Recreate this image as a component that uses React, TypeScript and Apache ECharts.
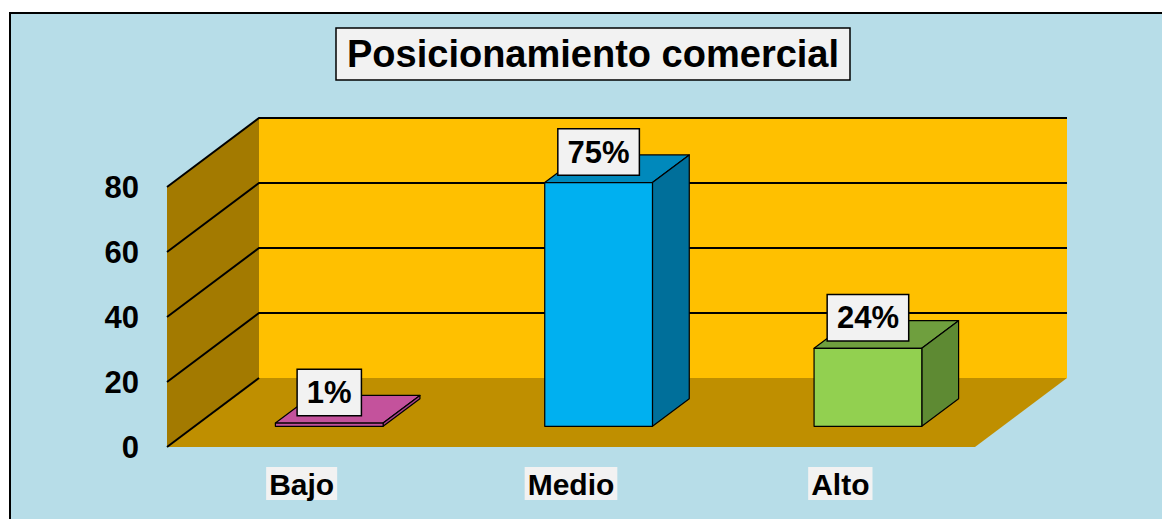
import React, { useEffect, useRef } from "react";
import * as echarts from "echarts";

const categories = ["Bajo", "Medio", "Alto"];
const values = [1, 75, 24];
const valueLabels = ["1%", "75%", "24%"];
const yTicks = [0, 20, 40, 60, 80];
const frontColors = ["#C0509C", "#00B0F0", "#92D050"];
const topColors = ["#C4529C", "#0089BC", "#6F9F3E"];
const sideColors = ["#A8418A", "#006F9A", "#5E8A33"];

const DX = 92;
const DY = -69;
const FONT = '"Liberation Sans", Arial, sans-serif';

export default function App() {
  const ref = useRef<HTMLDivElement>(null);
  useEffect(() => {
    const chart = echarts.init(ref.current!, null, { renderer: "svg" });

    const wallsRender = (params: any, api: any) => {
      const cs = params.coordSys;
      const x0 = cs.x;
      const x1 = cs.x + cs.width;
      const yb = api.coord([0, yTicks[0]])[1];
      const yt = api.coord([0, yTicks[yTicks.length - 1]])[1];
      const children: any[] = [];
      children.push({
        type: "polygon",
        shape: { points: [[x0, yb], [x1, yb], [x1 + DX, yb + DY], [x0 + DX, yb + DY]] },
        style: { fill: "#BF8F00" },
      });
      children.push({
        type: "polygon",
        shape: { points: [[x0, yb], [x0 + DX, yb + DY], [x0 + DX, yt + DY], [x0, yt]] },
        style: { fill: "#A37A00" },
      });
      children.push({
        type: "rect",
        shape: { x: x0 + DX, y: yt + DY, width: cs.width, height: yb - yt },
        style: { fill: "#FFC000" },
      });
      yTicks.forEach((v) => {
        const y = api.coord([0, v])[1];
        const pts =
          v === 0
            ? [[x0, y], [x0 + DX, y + DY]]
            : [[x0, y], [x0 + DX, y + DY], [x1 + DX, y + DY]];
        children.push({
          type: "polyline",
          shape: { points: pts },
          style: { stroke: "#000", lineWidth: 2, fill: null },
        });
      });
      return { type: "group", children };
    };

    const barRender = (params: any, api: any) => {
      const i = api.value(0);
      const v = api.value(1);
      const top = api.coord([i, v]);
      const base = api.coord([i, 0]);
      const band = api.size([1, 0])[0];
      const w = band * 0.4;
      const ox = DX * 0.3;
      const oy = DY * 0.3;
      const dx = DX * 0.4;
      const dy = DY * 0.4;
      const L = top[0] - w / 2 + ox;
      const R = L + w;
      const T = top[1] + oy;
      const B = base[1] + oy;
      const stroke = { stroke: "#000", lineWidth: 1.2, lineJoin: "round" };
      return {
        type: "group",
        children: [
          {
            type: "polygon",
            shape: { points: [[L, T], [R, T], [R + dx, T + dy], [L + dx, T + dy]] },
            style: { fill: topColors[i], ...stroke },
          },
          {
            type: "polygon",
            shape: { points: [[R, T], [R + dx, T + dy], [R + dx, B + dy], [R, B]] },
            style: { fill: sideColors[i], ...stroke },
          },
          {
            type: "rect",
            shape: { x: L, y: T, width: w, height: B - T },
            style: { fill: frontColors[i], ...stroke },
          },
          {
            type: "text",
            x: L + w / 2,
            y: T - 8,
            style: {
              text: valueLabels[i],
              x: 0,
              y: 0,
              align: "center",
              verticalAlign: "bottom",
              font: `bold 31px ${FONT}`,
              fill: "#000",
              backgroundColor: "#F2F2F2",
              borderColor: "#000",
              borderWidth: 1.5,
              padding: [7, 9, 7, 9],
            },
          },
        ],
      };
    };

    chart.setOption({
      animation: false,
      backgroundColor: "#FFFFFF",
      graphic: [
        {
          type: "rect",
          z: -100,
          shape: { x: 10, y: 13, width: 1200, height: 600 },
          style: { fill: "#B7DDE8", stroke: "#000", lineWidth: 2 },
        },
      ],
      title: {
        text: "Posicionamiento comercial",
        left: 336,
        top: 28,
        padding: [7, 11],
        backgroundColor: "#F2F2F2",
        borderColor: "#000",
        borderWidth: 1.5,
        textStyle: {
          fontFamily: FONT,
          fontWeight: "bold",
          fontSize: 38,
          lineHeight: 38,
          color: "#000",
        },
      },
      grid: { left: 167, right: 187, top: 187, bottom: 72 },
      xAxis: {
        type: "category",
        data: categories,
        axisLine: { show: false },
        axisTick: { show: false },
        splitLine: { show: false },
        axisLabel: {
          margin: 20,
          fontFamily: FONT,
          fontWeight: "bold",
          fontSize: 30,
          color: "#000",
          backgroundColor: "#F2F2F2",
          padding: [2, 3, 1, 3],
        },
      },
      yAxis: {
        type: "value",
        min: 0,
        max: 80,
        interval: 20,
        axisLine: { show: false },
        axisTick: { show: false },
        splitLine: { show: false },
        axisLabel: {
          margin: 28,
          fontFamily: FONT,
          fontWeight: "bold",
          fontSize: 31,
          color: "#000",
        },
      },
      series: [
        {
          type: "custom",
          data: [[0, 0]],
          renderItem: wallsRender,
          silent: true,
          z: 1,
        },
        {
          type: "custom",
          data: values.map((v, i) => [i, v]),
          renderItem: barRender,
          z: 2,
        },
      ],
    });
    return () => chart.dispose();
  }, []);
  return (
    <div
      ref={ref}
      style={{ position: "fixed", left: 0, top: 0, width: 1162, height: 519 }}
    />
  );
}
